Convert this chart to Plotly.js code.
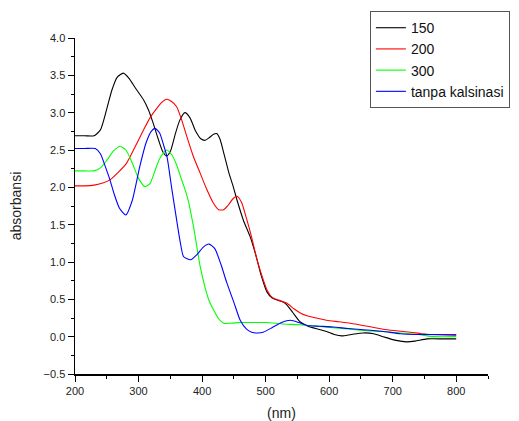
<!DOCTYPE html>
<html>
<head>
<meta charset="utf-8">
<script src="https://cdn.plot.ly/plotly-3.0.1.min.js"></script>
<style>html,body{margin:0;padding:0;background:#fff;}#chart{width:519px;height:421px;}</style>
</head>
<body>
<div id="chart"></div>
<script>
// Series: 150
const x150 = [200,215,230,240,250,258,266,276,285,295,308,316,323,332,338,344,350,358,365,373,381,390,398,405,412,418,423,428,435,442,449,456,465,476,485,493,502,510,518,526,533,543,554,567,583,596,608,620,635,654,670,685,700,712,722,735,754,780,800];
const y150 = [2.69,2.69,2.69,2.77,3.05,3.30,3.47,3.53,3.46,3.33,3.17,3.03,2.86,2.62,2.48,2.42,2.48,2.72,2.90,3.00,2.93,2.75,2.65,2.63,2.67,2.71,2.72,2.65,2.43,2.20,2.01,1.80,1.56,1.33,1.08,0.82,0.60,0.52,0.49,0.47,0.43,0.32,0.20,0.14,0.10,0.07,0.03,0.01,0.03,0.05,0.04,0.00,-0.04,-0.06,-0.07,-0.06,-0.03,-0.03,-0.03];
// Series: 200
const x200 = [200,215,230,245,255,268,281,295,308,318,329,337,344,352,360,368,376,386,397,407,417,426,434,441,449,455,462,470,478,486,494,502,510,520,533,545,556,565,580,596,615,633,660,685,705,728,745,760,800];
const y200 = [2.02,2.02,2.03,2.06,2.10,2.20,2.32,2.55,2.77,2.93,3.06,3.14,3.18,3.15,3.08,2.90,2.68,2.42,2.19,1.98,1.80,1.70,1.70,1.76,1.85,1.88,1.80,1.58,1.33,1.05,0.82,0.63,0.53,0.49,0.45,0.37,0.31,0.28,0.25,0.22,0.20,0.18,0.14,0.10,0.08,0.06,0.04,0.03,0.03];
// Series: 300
const x300 = [200,215,230,240,250,260,271,280,290,300,310,318,325,333,344,352,360,367,372,378,387,397,405,412,418,426,434,445,460,476,500,528,555,581,620,659,685,712,740,764,800];
const y300 = [2.22,2.22,2.22,2.26,2.36,2.48,2.55,2.50,2.33,2.12,2.01,2.05,2.20,2.38,2.50,2.44,2.30,2.12,2.00,1.83,1.45,0.94,0.65,0.46,0.36,0.24,0.18,0.18,0.19,0.19,0.19,0.17,0.16,0.14,0.11,0.08,0.07,0.05,0.03,0.00,0.00];
// Series: tanpa kalsinasi
const xTK = [200,215,232,240,248,255,262,270,280,290,302,312,320,326,333,340,345,352,360,366,371,382,392,402,411,420,430,439,450,460,470,478,488,496,510,525,539,552,565,585,606,630,659,685,712,735,754,800];
const yTK = [2.52,2.52,2.52,2.45,2.27,2.10,1.90,1.72,1.63,1.82,2.28,2.60,2.75,2.79,2.73,2.55,2.40,2.00,1.56,1.25,1.07,1.03,1.10,1.20,1.24,1.18,0.96,0.72,0.46,0.22,0.10,0.06,0.05,0.06,0.12,0.19,0.22,0.19,0.15,0.14,0.13,0.11,0.09,0.07,0.04,0.03,0.03,0.02];

const names = ['150','200','300','tanpa kalsinasi'];
const colors = ['#000000','#ff0000','#00ff00','#0000ff'];
const xs = [x150,x200,x300,xTK];
const ys = [y150,y200,y300,yTK];

const FONT = '"Liberation Sans", Arial, sans-serif';
const traces = xs.map((x,i)=>({
  x: x, y: ys[i], name: names[i], type:'scatter', mode:'lines',
  line:{color:colors[i], width:1.1, shape:'spline', smoothing:0.6}
}));

const layout = {
  width:519, height:421,
  margin:{l:75, r:31, t:38, b:47, autoexpand:false},
  paper_bgcolor:'#fff', plot_bgcolor:'#fff',
  font:{family:FONT, color:'#222'},
  showlegend:true,
  legend:{x:0.714, y:1.08, xanchor:'left', yanchor:'top', bgcolor:'#fff', bordercolor:'#555', borderwidth:1, font:{size:14, family:FONT, color:'#111'}, tracegroupgap:0},
  xaxis:{
    range:[200,850], tick0:200, dtick:100, ticks:'outside', ticklen:6, tickwidth:1, tickcolor:'#000',
    showline:true, linecolor:'#000', linewidth:1.5, showgrid:false, zeroline:false,
    tickfont:{size:11, family:FONT, color:'#222'},
    minor:{dtick:50, ticks:'outside', ticklen:3, tickcolor:'#000', showgrid:false},
    title:{text:'(nm)', font:{size:14, family:FONT, color:'#222'}, standoff:14}
  },
  yaxis:{
    range:[-0.5,4.0], tick0:0, dtick:0.5, tickformat:'.1f', ticks:'outside', ticklen:6, tickwidth:1, tickcolor:'#000',
    showline:true, linecolor:'#000', linewidth:1.5, showgrid:false, zeroline:false,
    tickfont:{size:11, family:FONT, color:'#222'},
    minor:{dtick:0.25, ticks:'outside', ticklen:3, tickcolor:'#000', showgrid:false},
    title:{text:'absorbansi', font:{size:14, family:FONT, color:'#222'}, standoff:18}
  }
};
Plotly.newPlot('chart', traces, layout, {displayModeBar:false, staticPlot:true});
</script>
</body>
</html>
